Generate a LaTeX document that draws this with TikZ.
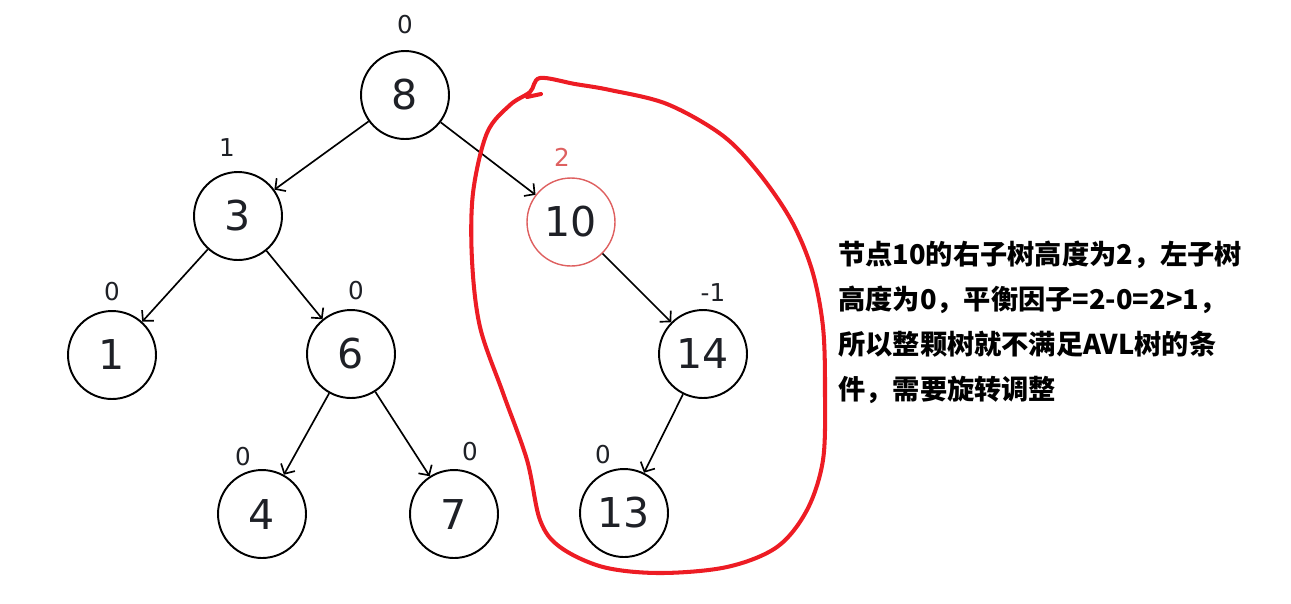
\documentclass[tikz,border=0pt]{standalone}
\usepackage{fontspec}
\setmainfont{DejaVu Sans}
\newfontfamily\cjk{Noto Sans CJK SC}
\usetikzlibrary{arrows.meta}
\definecolor{loopred}{RGB}{237,28,36}
\definecolor{softred}{RGB}{222,96,96}
\definecolor{ink}{RGB}{30,32,38}
\tikzset{
	treenode/.style={circle, draw, line width=1.1pt, minimum size=1.76cm, inner sep=0pt,
		text=ink, font=\fontsize{23.4}{26}\selectfont},
	height/.style={text=ink, inner sep=0pt, font=\fontsize{14}{16}\selectfont},
	edge/.style={line width=0.95pt, -{Straight Barb[length=4.2pt, width=9pt]}},
	infotext/.style={align=left, inner sep=0pt, text=black,
		font=\cjk\bfseries\fontsize{15.5}{25.6}\selectfont}
}

\begin{document}
\begin{tikzpicture}[x=0.02cm, y=-0.02cm]
	\useasboundingbox (0,0) rectangle (1291,603);
	
	% tree nodes
	\node[treenode] (n8) at (405,95) {8};
	\node[treenode] (n3) at (238,216) {3};
	\node[treenode, draw=softred, line width=0.8pt] (n10) at (571,222) {10};
	\node[treenode] (n1) at (112,355) {1};
	\node[treenode] (n6) at (351,354) {6};
	\node[treenode] (n14) at (703,354) {14};
	\node[treenode] (n4) at (262,514) {4};
	\node[treenode] (n7) at (454,514) {7};
	\node[treenode] (n13) at (624,513) {13};
	
	% heights
	\node[height] (h8) at (405,25) {0};
	\node[height] (h3) at (227,148) {1};
	\node[height, text=softred] (h10) at (562,157) {2};
	\node[height] (h1) at (112,292) {0};
	\node[height] (h6) at (356,291) {0};
	\node[height] (h14) at (713,293) {-1};
	\node[height] (h4) at (243,457) {0};
	\node[height] (h7) at (470,452) {0};
	\node[height] (h13) at (603,455) {0};
	
	\foreach \a/\b in {n8/n3, n8/n10, n3/n1, n3/n6, n6/n4, n6/n7, n10/n14, n14/n13}{
		\draw[edge] (\a) -- (\b);
	}
	
	% freehand loop round the subtree of 10
	\draw[loopred, line width=2.3pt, line join=round, line cap=round]
	plot[smooth cycle, tension=0.55] coordinates {
		(540,78) (575,84) (610,90) (667,104) (722,135) (758,172) (791,220)
		(812,270) (823,327) (825,393) (823,460) (807,510) (777,547) (727,567)
		(660,573) (603,567) (560,547) (540,520) (527,460) (503,393) (480,327)
		(472,260) (473,193) (487,133) (510,105) (530,92)};
	\draw[loopred, line width=2.3pt, line cap=round] (527,97) -- (541,94);
	
	\node[infotext, anchor=north west] (note) at (838,241)
	{节点10的右子树高度为2，左子树\\
	 高度为0，平衡因子=2-0=2>1，\\
	 所以整颗树就不满足AVL树的条\\
	 件，需要旋转调整};
	
\end{tikzpicture}
\end{document}
